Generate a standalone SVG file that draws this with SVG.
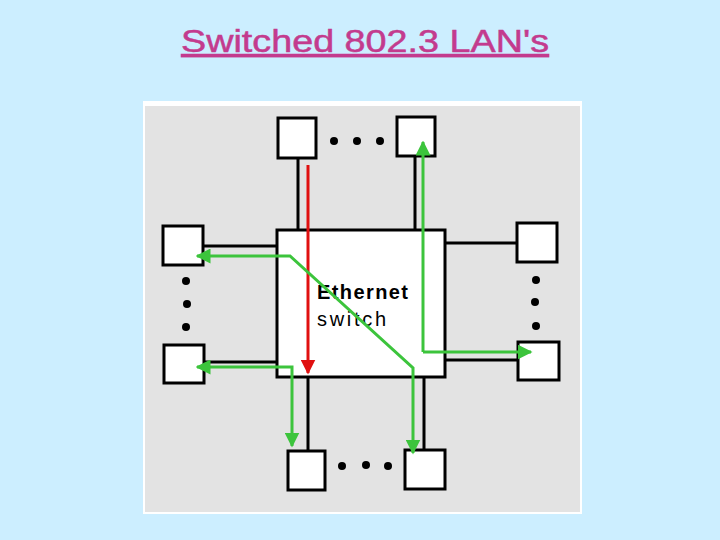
<svg xmlns="http://www.w3.org/2000/svg" width="720" height="540" viewBox="0 0 720 540">
<defs>
<style>
.h{fill:#fff;stroke:#000;stroke-width:3}
.w{stroke:#000;stroke-width:3;fill:none}
.g{stroke:#3cc43c;stroke-width:3;fill:none}
.d{fill:#000}
</style>
<marker id="ga" viewBox="0 0 10 10" refX="9" refY="5" markerWidth="5" markerHeight="5" orient="auto-start-reverse"><path d="M0,0L10,5L0,10z" fill="#3cc43c"/></marker>
<marker id="ra" viewBox="0 0 10 10" refX="9" refY="5" markerWidth="5" markerHeight="5" orient="auto"><path d="M0,0L10,5L0,10z" fill="#e01010"/></marker>
</defs>
<rect width="720" height="540" fill="#cceeff"/>
<text x="365" y="52" text-anchor="middle" font-family="Liberation Sans, sans-serif" font-size="31" fill="#c33b8e" stroke="#c33b8e" stroke-width="0.5" text-decoration="underline" textLength="368" lengthAdjust="spacingAndGlyphs">Switched 802.3 LAN's</text>
<rect x="143" y="101" width="439" height="413" fill="#fff"/>
<rect x="145" y="106" width="435" height="406" fill="#e3e3e3"/>
<g id="wires">
<path class="w" d="M298,158V229M415,157V229M203,246H276M204,362H276M446,243H517M446,360H518M308,378V450M424,378V449"/>
</g>
<g id="switch"><rect class="h" x="277" y="230" width="168" height="147"/>
<text x="317" y="299" font-family="Liberation Sans, sans-serif" font-size="20" font-weight="bold" textLength="91">Ethernet</text>
<text x="317" y="326" font-family="Liberation Sans, sans-serif" font-size="20" textLength="69">switch</text></g>
<g id="host-tl"><rect class="h" x="278" y="118" width="38" height="40"/></g>
<g id="host-tr"><rect class="h" x="397" y="117" width="38" height="39"/></g>
<g id="host-lt"><rect class="h" x="163" y="226" width="40" height="39"/></g>
<g id="host-lb"><rect class="h" x="164" y="345" width="40" height="38"/></g>
<g id="host-rt"><rect class="h" x="517" y="223" width="40" height="39"/></g>
<g id="host-rb"><rect class="h" x="518" y="342" width="41" height="38"/></g>
<g id="host-bl"><rect class="h" x="288" y="451" width="37" height="39"/></g>
<g id="host-br"><rect class="h" x="405" y="450" width="40" height="39"/></g>
<g id="dots">
<circle class="d" cx="334" cy="141" r="4"/><circle class="d" cx="357" cy="141" r="4"/><circle class="d" cx="380" cy="141" r="4"/>
<circle class="d" cx="342" cy="466" r="4"/><circle class="d" cx="366" cy="465" r="4"/><circle class="d" cx="388" cy="466" r="4"/>
<circle class="d" cx="186" cy="281" r="4"/><circle class="d" cx="187" cy="304" r="4"/><circle class="d" cx="186" cy="327" r="4"/>
<circle class="d" cx="536" cy="280" r="4"/><circle class="d" cx="535" cy="302" r="4"/><circle class="d" cx="536" cy="326" r="4"/>
</g>
<g id="connectors">
<line x1="308" y1="165" x2="308" y2="373" stroke="#e01010" stroke-width="3" marker-end="url(#ra)"/>
<path class="g" d="M423,142V352" marker-start="url(#ga)"/>
<path class="g" d="M423,352H531" marker-end="url(#ga)"/>
<path class="g" d="M197,256H290L413,368V453" marker-start="url(#ga)" marker-end="url(#ga)"/>
<path class="g" d="M197,367H292V446" marker-start="url(#ga)" marker-end="url(#ga)"/>
</g>
</svg>
